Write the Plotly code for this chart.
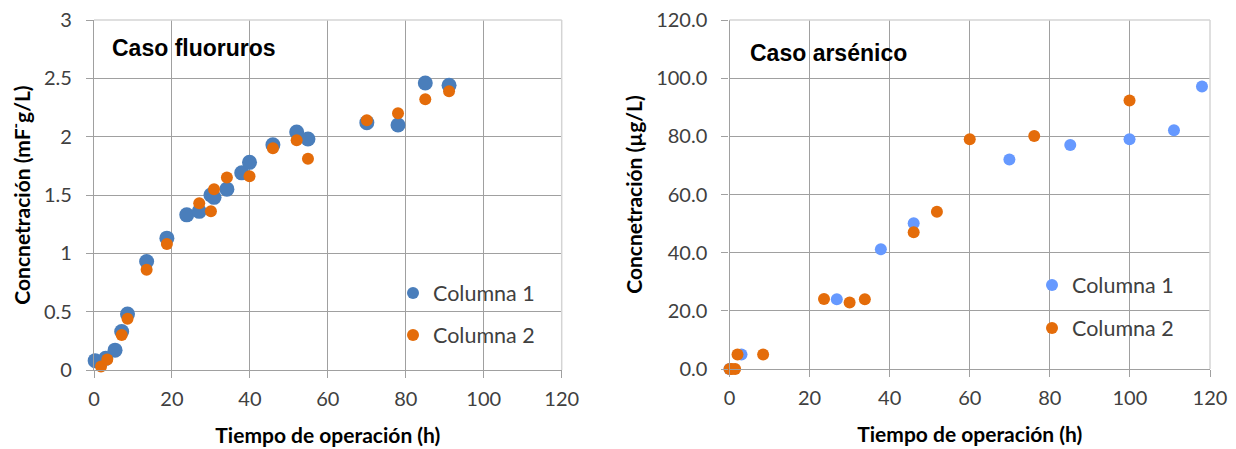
import plotly.graph_objects as go

# Fluoride case: operating time (h) vs concentration (mg F-/L)
fl_t1 = [0.3, 3.0, 5.4, 7.1, 8.6, 13.5, 18.7, 23.8, 27.0, 30.0, 30.8, 34.1, 37.9, 39.9, 45.9, 52.0, 54.9, 70.0, 78.0, 85.0, 91.1]
fl_c1 = [0.08, 0.10, 0.17, 0.33, 0.48, 0.93, 1.13, 1.33, 1.36, 1.50, 1.48, 1.55, 1.69, 1.78, 1.93, 2.04, 1.98, 2.12, 2.10, 2.46, 2.44]
fl_t2 = [1.8, 3.4, 7.1, 8.6, 13.5, 18.7, 27.0, 30.0, 30.8, 34.1, 39.9, 45.9, 52.0, 54.9, 70.0, 78.0, 85.0, 91.1]
fl_c2 = [0.03, 0.09, 0.30, 0.44, 0.86, 1.08, 1.43, 1.36, 1.55, 1.65, 1.66, 1.90, 1.97, 1.81, 2.14, 2.20, 2.32, 2.39]

# Arsenic case: operating time (h) vs concentration (ug/L)
as_t1 = [0.0, 3.0, 26.8, 37.8, 46.0, 69.9, 85.1, 99.9, 111.0, 118.0]
as_c1 = [0.0, 5.0, 24.0, 41.2, 50.1, 72.0, 77.0, 79.0, 82.1, 97.1]
as_t2 = [0.0, 0.6, 1.4, 2.0, 8.4, 23.6, 30.0, 33.8, 46.0, 51.8, 60.0, 76.1, 99.9]
as_c2 = [0.0, 0.0, 0.0, 5.0, 5.0, 24.1, 22.9, 24.0, 47.0, 54.1, 79.0, 80.1, 92.3]

x_ticks = [0, 20, 40, 60, 80, 100, 120]
fl_y_ticks = [0, 0.5, 1, 1.5, 2, 2.5, 3]
fl_y_labels = ["0", "0.5", "1", "1.5", "2", "2.5", "3"]
as_y_ticks = [0, 20, 40, 60, 80, 100, 120]
as_y_labels = ["0.0", "20.0", "40.0", "60.0", "80.0", "100.0", "120.0"]

BLUE = "#4a7ebb"
BLUE_LIGHT = "#6699ff"
ORANGE = "#e46c0a"
GRID = "#a0a0a0"
FRAME = "#d4d4d4"
TXT = "#404040"
TICK_FONT = dict(family="Lato", size=20, color=TXT)
TITLE_FONT = dict(family="Lato", size=21, color="#000000")
LEGEND_FONT = dict(family="Lato", size=21.5, color=TXT)

W, H = 1236, 449


def px_x(p):
    return p / W


def px_y(p):
    return 1 - p / H


fig = go.Figure()

# each series gets its own legend box so the entries can be spaced freely
fig.add_trace(go.Scatter(x=fl_t1, y=fl_c1, mode="markers", name="Columna 1", cliponaxis=False,
                         marker=dict(color=BLUE, size=15, line=dict(width=0)),
                         xaxis="x", yaxis="y", legend="legend"))
fig.add_trace(go.Scatter(x=fl_t2, y=fl_c2, mode="markers", name="Columna 2", cliponaxis=False,
                         marker=dict(color=ORANGE, size=12, line=dict(width=0)),
                         xaxis="x", yaxis="y", legend="legend2"))
fig.add_trace(go.Scatter(x=as_t1, y=as_c1, mode="markers", name="Columna 1", cliponaxis=False,
                         marker=dict(color=BLUE_LIGHT, size=12, line=dict(width=0)),
                         xaxis="x2", yaxis="y2", legend="legend3"))
fig.add_trace(go.Scatter(x=as_t2, y=as_c2, mode="markers", name="Columna 2", cliponaxis=False,
                         marker=dict(color=ORANGE, size=12, line=dict(width=0)),
                         xaxis="x2", yaxis="y2", legend="legend4"))

axis_common = dict(
    showgrid=True, gridcolor=GRID, gridwidth=1.4,
    showline=True, linecolor=GRID, linewidth=1.4,
    ticks="outside", ticklen=7, tickcolor=GRID, tickwidth=1.4,
    tickfont=TICK_FONT, zeroline=False, fixedrange=True, automargin=False,
)
x_common = dict(axis_common, ticklabelstandoff=4)
y_common = dict(axis_common, ticklabelstandoff=10)


def legend_box(xp, yp):
    return dict(x=px_x(xp), y=px_y(yp), xanchor="left", yanchor="middle",
                font=LEGEND_FONT, bgcolor="rgba(0,0,0,0)", itemwidth=30,
                itemsizing="constant", borderwidth=0)


fig.update_layout(
    width=W, height=H,
    margin=dict(l=0, r=0, t=0, b=0, autoexpand=False),
    paper_bgcolor="white", plot_bgcolor="white",
    xaxis=dict(domain=[px_x(94), px_x(561.7)], range=[0, 120], tickvals=x_ticks,
               anchor="y", title=dict(text="<b>Tiempo de operación (h)</b>", font=TITLE_FONT, standoff=19),
               **x_common),
    yaxis=dict(domain=[px_y(370), px_y(20)], range=[0, 3], tickvals=fl_y_ticks, ticktext=fl_y_labels,
               anchor="x", title=dict(text="<b>Concnetración (mF<sup>-</sup>g/L)</b>", font=TITLE_FONT, standoff=7),
               **y_common),
    xaxis2=dict(domain=[px_x(729.5), px_x(1210)], range=[0, 120], tickvals=x_ticks,
                anchor="y2", title=dict(text="<b>Tiempo de operación (h)</b>", font=TITLE_FONT, standoff=19),
                **x_common),
    yaxis2=dict(domain=[px_y(369), px_y(20)], range=[0, 120], tickvals=as_y_ticks, ticktext=as_y_labels,
                anchor="x2", title=dict(text="<b>Concnetración (µg/L)</b>", font=TITLE_FONT, standoff=7),
                **y_common),
    legend=legend_box(393, 293),
    legend2=legend_box(393, 335),
    legend3=legend_box(1032, 285),
    legend4=legend_box(1032, 328),
    showlegend=True,
    annotations=[
        dict(text="<b>Caso fluoruros</b>", xref="paper", yref="paper",
             x=px_x(110), y=px_y(48), xanchor="left", yanchor="middle", showarrow=False,
             font=dict(family="Liberation Sans", size=23, color="#000000")),
        dict(text="<b>Caso arsénico</b>", xref="paper", yref="paper",
             x=px_x(748), y=px_y(53), xanchor="left", yanchor="middle", showarrow=False,
             font=dict(family="Liberation Sans", size=23, color="#000000")),
    ],
    shapes=[
        # light frame along the top and right of each plot area
        dict(type="line", xref="x domain", yref="y domain", x0=0, x1=1, y0=1, y1=1,
             line=dict(color=FRAME, width=1.5)),
        dict(type="line", xref="x domain", yref="y domain", x0=1, x1=1, y0=0, y1=1,
             line=dict(color=FRAME, width=1.5)),
        dict(type="line", xref="x2 domain", yref="y2 domain", x0=0, x1=1, y0=1, y1=1,
             line=dict(color=FRAME, width=1.5)),
        dict(type="line", xref="x2 domain", yref="y2 domain", x0=1, x1=1, y0=0, y1=1,
             line=dict(color=FRAME, width=1.5)),
    ],
)

fig.write_html("out.html")
